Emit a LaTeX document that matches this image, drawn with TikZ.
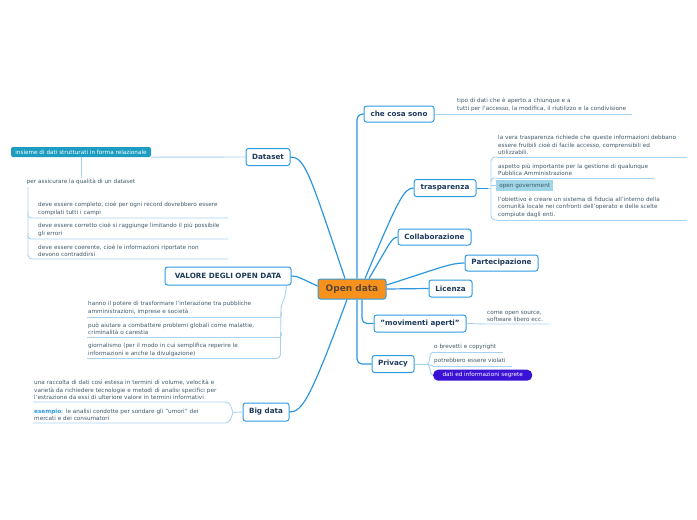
\documentclass[tikz,border=0pt]{standalone}
\usepackage{fontspec}
\setmainfont{DejaVu Sans}
\newcommand\lfnt{\fontsize{5.7}{7.7}\selectfont}
\newcommand\bfnt{\fontsize{7.2}{8}\selectfont\bfseries}
\definecolor{boxblue}{HTML}{2E9BE2}
\definecolor{navy}{HTML}{1D3A5C}
\definecolor{conncol}{HTML}{2C97DF}
\definecolor{subcol}{HTML}{A7D3F1}
\definecolor{leafc}{HTML}{3F5869}
\definecolor{orng}{HTML}{F7911E}
\definecolor{odtext}{HTML}{5B4636}
\definecolor{teal}{HTML}{1B9CC0}
\definecolor{ogfill}{HTML}{9FD5E6}
\definecolor{purp}{HTML}{3A12D6}
\tikzset{
  mainbox/.style={draw=boxblue, line width=1pt, rounded corners=2.5pt, fill=white,
    font=\bfnt, text=navy, minimum height=16pt, inner xsep=2pt, inner ysep=1pt},
  leaf/.style={anchor=south west, font=\lfnt, text=leafc, align=left,
    inner xsep=1pt, inner ysep=2pt},
  conn/.style={draw=conncol, line width=1.2pt},
  sub/.style={draw=subcol, line width=0.9pt},
}
\begin{document}
\begin{tikzpicture}[x=1pt,y=-1pt]
\useasboundingbox (0,0) rectangle (697,520);

% central node
\node[draw=boxblue, line width=1pt, rounded corners=2.5pt, fill=orng, text=odtext,
  font=\fontsize{9}{10}\selectfont\bfseries, minimum width=68pt, minimum height=20pt]
  (od) at (352,289) {Open data};

% main branches
\node[mainbox, minimum width=70pt] (cs) at (399,114) {che cosa sono};
\node[mainbox, minimum width=62pt, minimum height=17pt] (tr) at (445,188) {trasparenza};
\node[mainbox, minimum width=73pt] (col) at (434.5,237) {Collaborazione};
\node[mainbox, minimum width=73pt] (part) at (501.5,263) {Partecipazione};
\node[mainbox, minimum width=43pt, minimum height=17pt] (lic) at (450.5,288.5) {Licenza};
\node[mainbox, minimum width=92pt, minimum height=17pt] (mov) at (420,323.5) {"movimenti aperti"};
\node[mainbox, minimum width=42pt, minimum height=17pt] (priv) at (393,364) {Privacy};
\node[mainbox, minimum width=44pt, minimum height=17pt] (ds) at (268,157) {Dataset};
\node[mainbox, minimum width=126pt, minimum height=18pt] (val) at (228,276) {VALORE DEGLI OPEN DATA};
\node[mainbox, minimum width=46pt, minimum height=18pt] (big) at (266,412) {Big data};

% main connectors
\draw[conn, rounded corners=6pt] ([xshift=5pt]od.north) |- (cs.west);
\draw[conn] ([xshift=13pt]od.north) .. controls (398,200) and (404,188) .. (tr.west);
\draw[conn] ([xshift=17pt]od.north) .. controls (390,243) and (392,237) .. (col.west);
\draw[conn] ([yshift=4pt]od.east) .. controls (440,268) and (450,263) .. (part.west);
\draw[conn] (od.east) -- (lic.west);
\draw[conn, rounded corners=5pt] ([xshift=10pt]od.south) |- (mov.west);
\draw[conn, rounded corners=5pt] ([xshift=5pt]od.south) |- (priv.west);
\draw[conn] ([xshift=-7pt]od.north) .. controls (310,175) and (305,157) .. (ds.east);
\draw[conn] ([yshift=3pt]od.west) .. controls (300,278) and (298,276) .. (val.east);
\draw[conn] ([xshift=-5pt]od.south) .. controls (310,400) and (302,412) .. (big.east);

% che cosa sono
\node[leaf, text width=174pt] (c1) at (456,114) {tipo di dati che è aperto a chiunque e a\\tutti per l'accesso, la modifica, il riutilizzo e la condivisione};
\draw[sub] (cs.east) -- (c1.south east);

% trasparenza
\node[leaf, text width=188pt] (t1) at (497,157) {la vera trasparenza richiede che queste informazioni debbano\\essere fruibili cioè di facile accesso, comprensibili ed\\utilizzabili.};
\node[leaf, text width=155pt] (t2) at (497,178) {aspetto più importante per la gestione di qualunque\\Pubblica Amministrazione};
\node[anchor=north west, fill=ogfill, font=\lfnt, text=leafc, minimum width=57pt, minimum height=11pt, inner sep=1pt] (t3) at (496,180) {open government};
\node[leaf, text width=188pt] (t4) at (497,220) {l'obiettivo è creare un sistema di fiducia all'interno della\\comunità locale nei confronti dell'operato e delle scelte\\compiute dagli enti.};
\foreach \n in {t1,t2,t4}{\draw[sub] (\n.south west) -- (\n.south east);}
\draw[conn, line width=0.9pt] (tr.east) -- (488,188);
\draw[sub, rounded corners=4pt] (t1.south west) -| (491,188) |- (t4.south west);
\draw[sub] (488,188) -- (491,188);
\draw[sub, rounded corners=3pt] (491,182) |- (t2.south west);
\draw[sub] (491,185.5) -- (t3.west);

% Dataset
\node[fill=teal, text=white, rounded corners=2pt, font=\lfnt, minimum width=140pt, minimum height=10pt, inner sep=1pt] (ins) at (81,152) {insieme di dati strutturati in forma relazionale};
\draw[sub] (ins.south east) -- (ds.west);
\node[font=\lfnt, text=leafc, inner sep=1pt] (per) at (81,182) {per assicurare la qualità di un dataset};
\draw[sub] (ins.south) -- (per.north);
\node[leaf, text width=189pt] (d1) at (37,218) {deve essere completo, cioè per ogni record dovrebbero essere\\compilati tutti i campi};
\node[leaf, text width=189pt] (d2) at (37,239) {deve essere corretto cioè si raggiunge limitando il più possibile\\gli errori};
\node[leaf, text width=189pt] (d3) at (37,259) {deve essere coerente, cioè le informazioni riportate non\\devono contraddirsi};
\draw[sub, rounded corners=4pt] (28,187) |- (d3.south east);
\draw[sub, rounded corners=3pt] (28,212) |- (d1.south east);
\draw[sub, rounded corners=3pt] (28,233) |- (d2.south east);

% VALORE
\node[leaf, text width=191pt] (v1) at (87,317) {hanno il potere di trasformare l'interazione tra pubbliche\\amministrazioni, imprese e società};
\node[leaf, text width=191pt] (v2) at (87,337) {può aiutare a combattere problemi globali come malattie,\\criminalità o carestia};
\node[leaf, text width=191pt] (v3) at (87,358.5) {giornalismo (per il modo in cui semplifica reperire le\\informazioni e anche la divulgazione)};
\foreach \n in {v1,v2}{\draw[sub] (\n.south west) -- (\n.south east);}
\draw[sub, rounded corners=4pt] (v3.south west) -- (v3.south east) -- (281,306) -- (285,297) -- ([xshift=-5pt]val.south east);
\draw[sub] (281,312) to[out=-90,in=0] (v1.south east);
\draw[sub] (281,332) to[out=-90,in=0] (v2.south east);

% Big data
\node[leaf, text width=190pt] (b1) at (33,402) {una raccolta di dati così estesa in termini di volume, velocità e\\varietà da richiedere tecnologie e metodi di analisi specifici per\\l'estrazione da essi di ulteriore valore in termini informativi};
\node[leaf, text width=190pt] (b2) at (33,423) {\textcolor{conncol}{\bfseries esempio}: le analisi condotte per sondare gli "umori" dei\\mercati e dei consumatori};
\coordinate (btip) at (233,412.5);
\draw[sub] (b1.south west) -- (b1.south east) to[out=0,in=110] (btip) to[out=-110,in=0] (b2.south east) -- (b2.south west);
\draw[sub] (btip) -- (big.west);

% movimenti aperti
\node[leaf, text width=61pt] (m1) at (486,324) {come open source,\\software libero ecc.};
\draw[sub] (mov.east) -- (m1.south west) -- (m1.south east);

% Privacy
\node[leaf, text width=68pt] (p1) at (433,352) {o brevetti e copyright};
\node[leaf, text width=77pt] (p2) at (433,366) {potrebbero essere violati};
\node[anchor=north west, fill=purp, text=white, rounded corners=5pt, font=\lfnt, minimum width=99pt, minimum height=11pt, inner sep=1pt] (p3) at (433,369.5) {dati ed informazioni segrete};
\foreach \n in {p1,p2}{\draw[sub] (\n.south west) -- (\n.south east);}
\draw[sub] (priv.east) -- (427,364);
\draw[sub] (427,364) .. controls (431,364) and (428,352) .. (p1.south west);
\draw[sub] (427,364) -- (p2.south west);
\draw[sub] (427,364) .. controls (431,364) and (429,375) .. (p3.west);
\end{tikzpicture}
\end{document}
